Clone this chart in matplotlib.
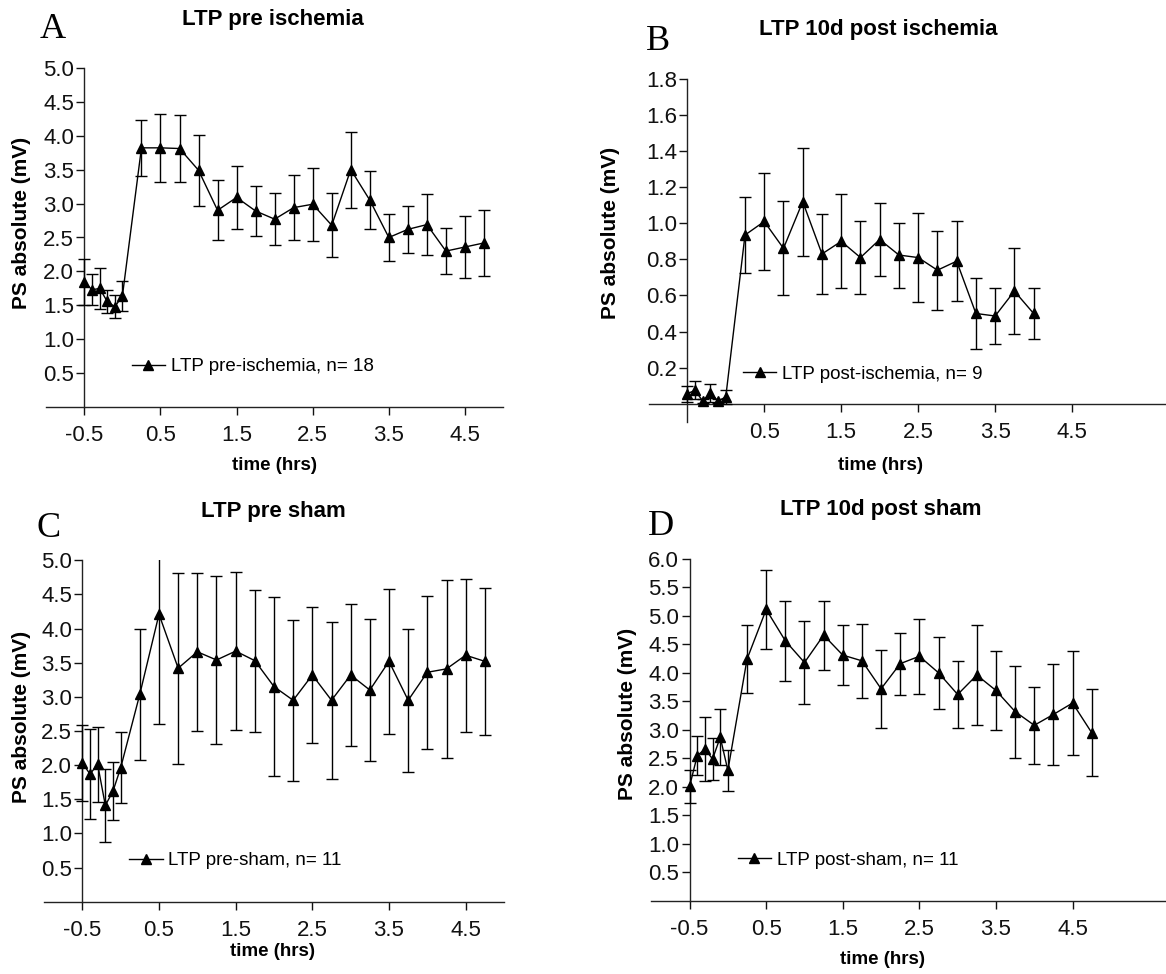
import matplotlib
matplotlib.use('Agg')
import matplotlib.pyplot as plt
from matplotlib.lines import Line2D

# ---------------- data ----------------
time_full = [-0.5, -0.4, -0.3, -0.2, -0.1, 0.0, 0.25, 0.5, 0.75, 1.0, 1.25, 1.5, 1.75,
             2.0, 2.25, 2.5, 2.75, 3.0, 3.25, 3.5, 3.75, 4.0, 4.25, 4.5, 4.75]
time_b = [-0.5, -0.4, -0.3, -0.2, -0.1, 0.0, 0.25, 0.5, 0.75, 1.0, 1.25, 1.5, 1.75,
          2.0, 2.25, 2.5, 2.75, 3.0, 3.25, 3.5, 3.75, 4.0]

mean_a = [1.85, 1.73, 1.75, 1.56, 1.48, 1.64, 3.82, 3.82, 3.81, 3.49, 2.90, 3.09, 2.89,
          2.77, 2.94, 2.99, 2.68, 3.50, 3.05, 2.50, 2.62, 2.69, 2.30, 2.36, 2.42]
sem_a = [0.34, 0.23, 0.30, 0.17, 0.17, 0.22, 0.41, 0.50, 0.50, 0.52, 0.44, 0.46, 0.37,
         0.38, 0.48, 0.54, 0.47, 0.56, 0.43, 0.35, 0.35, 0.45, 0.34, 0.45, 0.48]

mean_b = [0.055, 0.074, 0.015, 0.059, 0.015, 0.037, 0.935, 1.01, 0.861, 1.12, 0.83, 0.90,
          0.81, 0.91, 0.824, 0.81, 0.74, 0.79, 0.50, 0.486, 0.624, 0.50]
sem_b = [0.045, 0.05, 0.01, 0.05, 0.01, 0.04, 0.21, 0.27, 0.26, 0.30, 0.22, 0.26,
         0.20, 0.20, 0.18, 0.245, 0.22, 0.22, 0.195, 0.155, 0.24, 0.14]

mean_c = [2.03, 1.87, 2.01, 1.41, 1.62, 1.96, 3.04, 4.21, 3.42, 3.66, 3.54, 3.67, 3.53,
          3.15, 2.95, 3.32, 2.95, 3.32, 3.10, 3.52, 2.95, 3.36, 3.41, 3.61, 3.52]
sem_c = [0.56, 0.66, 0.55, 0.53, 0.43, 0.52, 0.96, 1.61, 1.40, 1.16, 1.23, 1.16, 1.04,
         1.31, 1.18, 1.00, 1.15, 1.04, 1.04, 1.06, 1.05, 1.12, 1.30, 1.12, 1.08]

mean_d = [2.01, 2.55, 2.66, 2.49, 2.87, 2.29, 4.24, 5.11, 4.56, 4.18, 4.66, 4.31, 4.21,
          3.72, 4.16, 4.29, 4.00, 3.62, 3.96, 3.69, 3.32, 3.08, 3.27, 3.47, 2.95]
sem_d = [0.285, 0.34, 0.56, 0.37, 0.49, 0.365, 0.59, 0.70, 0.705, 0.725, 0.605, 0.53, 0.645,
         0.68, 0.545, 0.655, 0.63, 0.585, 0.875, 0.695, 0.805, 0.67, 0.885, 0.905, 0.765]

titles = ["LTP pre ischemia", "LTP 10d post ischemia", "LTP pre sham", "LTP 10d post sham"]
letters = ["A", "B", "C", "D"]
legend_labels = ["LTP pre-ischemia, n= 18", "LTP post-ischemia, n= 9",
                 "LTP pre-sham, n= 11", "LTP post-sham, n= 11"]
xticks_full = [-0.5, 0.5, 1.5, 2.5, 3.5, 4.5]
xticks_b = [0.5, 1.5, 2.5, 3.5, 4.5]
yticks_a = [0.5, 1.0, 1.5, 2.0, 2.5, 3.0, 3.5, 4.0, 4.5, 5.0]
yticks_b = [0.2, 0.4, 0.6, 0.8, 1.0, 1.2, 1.4, 1.6, 1.8]
yticks_c = [0.5, 1.0, 1.5, 2.0, 2.5, 3.0, 3.5, 4.0, 4.5, 5.0]
yticks_d = [0.5, 1.0, 1.5, 2.0, 2.5, 3.0, 3.5, 4.0, 4.5, 5.0, 5.5, 6.0]

# ---------------- figure ----------------
plt.rcParams['font.family'] = ['Liberation Sans', 'DejaVu Sans']
W, H = 1166, 974
fig = plt.figure(figsize=(W / 100, H / 100), dpi=100)


def px_axes(left, right, top, bottom):
    return fig.add_axes([left / W, 1 - bottom / H, (right - left) / W, (bottom - top) / H])


def ftext(x, y, s, **kw):
    fig.text(x / W, 1 - y / H, s, **kw)


panels = [
    dict(t=time_full, m=mean_a, s=sem_a, box=(46.3, 503.0, 67.7, 407.3), xlim=(-1, 5), ylim=(0, 5.0),
         xt=xticks_full, yt=yticks_a, leg=(0.12, 0.60), ybounds=(0, 5.0),
         title=(273, 19), letter=(40, 38), ylab=(21.7, 223), xlab=(274, 465)),
    dict(t=time_b, m=mean_b, s=sem_b, box=(648.8, 1166.0, 79.0, 421.7), xlim=(-1, 5.72), ylim=(-0.1, 1.8),
         xt=xticks_b, yt=yticks_b, leg=(0.22, 0.164), ybounds=(-0.1, 1.8),
         title=(878, 30), letter=(646, 50), ylab=(611, 233), xlab=(880, 465)),
    dict(t=time_full, m=mean_c, s=sem_c, box=(44.0, 504.0, 560.3, 901.7), xlim=(-1, 5), ylim=(0, 5.0),
         xt=xticks_full, yt=yticks_c, leg=(0.11, 0.60), ybounds=(0, 5.0),
         title=(273, 512), letter=(37, 537), ylab=(21.7, 717), xlab=(273, 952)),
    dict(t=time_full, m=mean_d, s=sem_d, box=(651.3, 1166.0, 558.7, 901.0), xlim=(-1, 5.72), ylim=(0, 6.0),
         xt=xticks_full, yt=yticks_d, leg=(0.127, 0.71), ybounds=(0, 6.0),
         title=(881, 510), letter=(648, 535), ylab=(628, 714), xlab=(882, 960)),
]

for i, p in enumerate(panels):
    ax = px_axes(*p['box'])
    ax.errorbar(p['t'], p['m'], yerr=p['s'], fmt='-^', color='black', ms=7.5, lw=1.0,
                elinewidth=1.0, capsize=4.5, capthick=1.0, zorder=3)
    ax.set_xlim(*p['xlim'])
    ax.set_ylim(*p['ylim'])
    for side in ('top', 'right'):
        ax.spines[side].set_visible(False)
    ax.spines['left'].set_position(('data', -0.5))
    ax.spines['bottom'].set_position(('data', 0))
    ax.spines['left'].set_bounds(*p['ybounds'])
    for side in ('left', 'bottom'):
        ax.spines[side].set_linewidth(1.0)
        ax.spines[side].set_color('#222222')
    ax.set_xticks(p['xt'])
    ax.set_xticklabels([f"{v:.1f}" for v in p['xt']])
    ax.set_yticks(p['yt'])
    ax.set_yticklabels([f"{v:.1f}" for v in p['yt']])
    ax.tick_params(direction='out', length=6, width=1.0, labelsize=16, colors='#111111')
    ax.tick_params(axis='x', pad=7)
    ax.tick_params(axis='y', pad=1.5)
    ax.patch.set_alpha(0)

    handle = Line2D([], [], color='black', marker='^', ms=7.5, lw=1.0)
    ax.legend([handle], [legend_labels[i]], loc='center left', bbox_to_anchor=p['leg'],
              bbox_transform=ax.transData, frameon=False, borderpad=0, borderaxespad=0,
              handlelength=1.8, handletextpad=0.3, fontsize=13.5)

    ftext(*p['title'], titles[i], ha='center', va='center', fontsize=16, fontweight='bold')
    ftext(*p['letter'], letters[i], ha='left', va='baseline', fontsize=26,
          family=['Liberation Serif', 'DejaVu Serif'])
    ftext(*p['ylab'], "PS absolute (mV)", ha='center', va='center', rotation=90,
          fontsize=15, fontweight='bold')
    ftext(*p['xlab'], "time (hrs)", ha='center', va='center', fontsize=13.5, fontweight='bold')

fig.savefig('out.png', dpi=100)
